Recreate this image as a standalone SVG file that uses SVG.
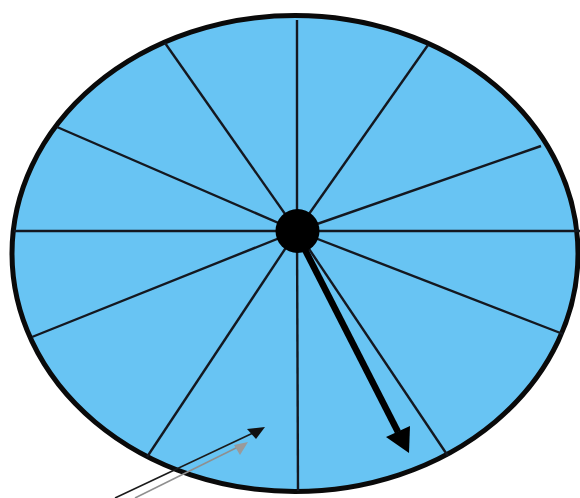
<svg xmlns="http://www.w3.org/2000/svg" width="580" height="498" viewBox="0 0 580 498">
<style>
.spoke{stroke:#141820;stroke-width:2.4;fill:none;stroke-linecap:butt}
</style>
<rect width="580" height="498" fill="#ffffff"/>
<g id="wheel">
<ellipse cx="295" cy="253.5" rx="283" ry="238" fill="#68c4f3" stroke="#0a0a0a" stroke-width="5"/>
</g>
<g id="spokes">
<line class="spoke" x1="297" y1="231" x2="297" y2="20"/>
<line class="spoke" x1="297" y1="231" x2="298" y2="491"/>
<line class="spoke" x1="297" y1="231" x2="14" y2="231"/>
<line class="spoke" x1="297" y1="231" x2="580" y2="231"/>
<line class="spoke" x1="297" y1="231" x2="165" y2="43"/>
<line class="spoke" x1="297" y1="231" x2="57" y2="127"/>
<line class="spoke" x1="297" y1="231" x2="428" y2="45"/>
<line class="spoke" x1="297" y1="231" x2="541" y2="146"/>
<line class="spoke" x1="297" y1="231" x2="32" y2="337"/>
<line class="spoke" x1="297" y1="231" x2="147" y2="457"/>
<line class="spoke" x1="297" y1="231" x2="563" y2="334"/>
<line class="spoke" x1="297" y1="231" x2="448" y2="456"/>
</g>
<g id="connectors">
<line x1="300" y1="240" x2="398" y2="432" stroke="#000" stroke-width="6.5"/>
<polygon points="409,453 386,437 410,426" fill="#000"/>
<line x1="115" y1="498" x2="253" y2="433" stroke="#1a1a1a" stroke-width="1.6"/>
<polygon points="265,427 247,429 256,439" fill="#111"/>
<line x1="135" y1="498" x2="238" y2="447" stroke="#8f8f8f" stroke-width="1.6"/>
<polygon points="248,442 234,445 240,455" fill="#9a9a9a"/>
</g>
<g id="hub">
<circle cx="297.5" cy="231" r="22" fill="#000"/>
</g>
</svg>
